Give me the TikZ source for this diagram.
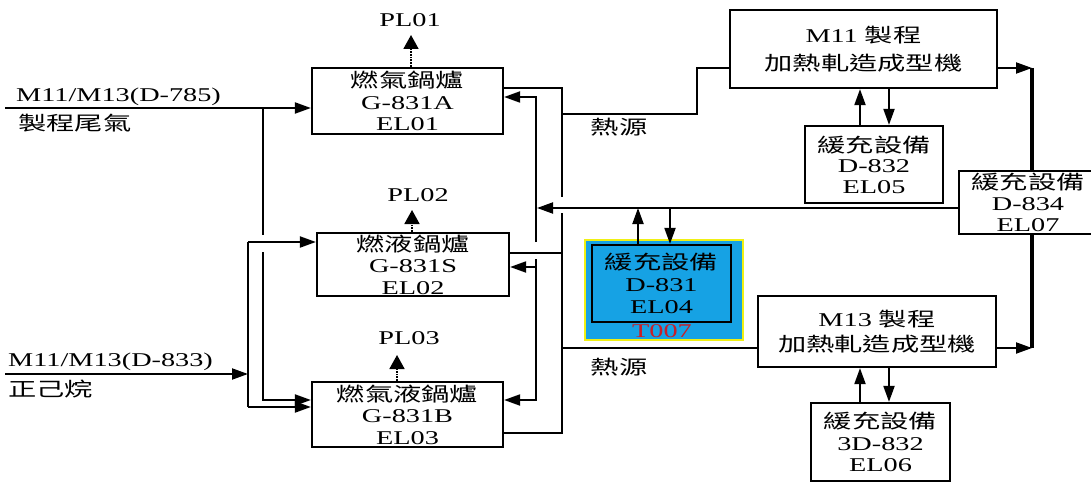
\documentclass[tikz,border=0pt]{standalone}
\usepackage{fontspec}
\setmainfont{Liberation Serif}[FakeStretch=1.45]
\newfontfamily\cjk{Noto Sans CJK TC}[FakeStretch=1.45]
\usetikzlibrary{arrows.meta}
\definecolor{blueF}{RGB}{22,162,228}
\definecolor{yellowB}{RGB}{240,240,20}
\definecolor{redT}{RGB}{200,30,40}
\begin{document}
\begin{tikzpicture}[x=1pt,y=-1pt,font=\fontsize{19.5}{21.5}\selectfont]
\useasboundingbox (0,0) rectangle (1091,484);
\tikzset{
  box/.style={draw, line width=2.2pt, inner sep=0pt, align=center},
  ln/.style={line width=2pt},
  thk/.style={line width=3.2pt},
  arr/.style={line width=2pt, -{Triangle[length=16pt,width=11pt]}},
  plshaft/.style={line width=1.8pt, densely dotted},
  plhead/.style={line width=1.8pt, solid, -{Triangle[length=14pt,width=15pt]}},
  lbl/.style={inner sep=0pt},
}
% ---------- boxes ----------
\node[box, minimum width=191pt, minimum height=66pt] (A) at (407.5,101) {{\cjk 燃氣鍋爐}\\G-831A\\EL01};
\node[box, minimum width=192pt, minimum height=63pt] (S) at (413,264.5) {{\cjk 燃液鍋爐}\\G-831S\\EL02};
\node[box, minimum width=191pt, minimum height=65pt] (B) at (407.5,414.5) {{\cjk 燃氣液鍋爐}\\G-831B\\EL03};
\node[box, minimum width=267pt, minimum height=78pt, font=\fontsize{19.5}{28}\selectfont] (M11) at (863.5,49) {M11 {\cjk 製程}\\{\cjk 加熱軋造成型機}};
\node[box, minimum width=138pt, minimum height=77pt, font=\fontsize{19.5}{20.5}\selectfont] (D832) at (874,164.5) {{\cjk 緩充設備}\\D-832\\EL05};
\node[box, minimum width=138pt, minimum height=63pt, font=\fontsize{19.5}{21}\selectfont] (D834) at (1028,202.5) {{\cjk 緩充設備}\\D-834\\EL07};
\node[box, minimum width=238pt, minimum height=71pt, font=\fontsize{19.5}{25}\selectfont] (M13) at (877,331.5) {M13 {\cjk 製程}\\{\cjk 加熱軋造成型機}};
\node[box, minimum width=139pt, minimum height=78pt] (D3832) at (880.5,442) {{\cjk 緩充設備}\\3D-832\\EL06};
\node[draw=yellowB, line width=1.5pt, fill=blueF, inner sep=0pt, minimum width=158pt, minimum height=100pt] (D831bg) at (664,290) {};
\node[box, fill=blueF, minimum width=139pt, minimum height=77pt, font=\fontsize{19.5}{22}\selectfont] (D831) at (661.5,283.5) {{\cjk 緩充設備}\\D-831\\EL04};
\node[lbl, text=redT] (T007) at (662,331) {T007};
% ---------- labels ----------
\node[lbl, anchor=west] (L1) at (16,97) {M11/M13(D-785)};
\node[lbl, anchor=west] (L1b) at (18,123) {\cjk 製程尾氣};
\node[lbl, anchor=west] (L2) at (8,362) {M11/M13(D-833)};
\node[lbl, anchor=west] (L2b) at (8,389) {\cjk 正己烷};
\node[lbl] (PL01) at (410,20) {PL01};
\node[lbl] (PL02) at (418,195) {PL02};
\node[lbl] (PL03) at (409,338) {PL03};
\node[lbl] (H1) at (619,127) {\cjk 熱源};
\node[lbl] (H2) at (619,367) {\cjk 熱源};
% ---------- PL arrows ----------
\coordinate (pa) at (411,35);
\coordinate (pa2) at (411,48);
\coordinate (pb) at (412,210);
\coordinate (pb2) at (412,223);
\coordinate (pc) at (397,355);
\coordinate (pc2) at (397,368);
\draw[plshaft] (pa |- A.north) -- (pa2);
\draw[plhead] (pa2) -- (pa);
\draw[plshaft] (pb |- S.north) -- (pb2);
\draw[plhead] (pb2) -- (pb);
\draw[plshaft] (pc |- B.north) -- (pc2);
\draw[plhead] (pc2) -- (pc);
% ---------- inputs ----------
\coordinate (in1) at (5,108);
\draw[arr] (in1) -- (in1 -| A.west);
\coordinate (j1) at (263,108);
\coordinate (j1a) at (263,235);
\coordinate (j1b) at (263,252);
\coordinate (j1c) at (263,400);
\draw[ln] (j1) -- (j1a);
\draw[arr] (j1b) -- (j1c) -- (j1c -| B.west);
\coordinate (in2) at (5,374);
\coordinate (v2) at (248,374);
\coordinate (v2t) at (248,242);
\coordinate (v2b) at (248,407);
\draw[arr] (in2) -- (v2);
\draw[ln] (v2t) -- (v2b);
\draw[arr] (v2t) -- (v2t -| S.west);
\draw[arr] (v2b) -- (v2b -| B.west);
% ---------- boiler outputs ----------
\coordinate (oA) at (562,88);
\coordinate (oG1) at (562,197);
\coordinate (oG2) at (562,213);
\coordinate (oS) at (562,253);
\coordinate (oB) at (562,433);
\draw[ln] (oA -| A.east) -- (oA) -- (oG1);
\draw[ln] (oG2) -- (oB) -- (oB -| B.east);
\draw[ln] (oS -| S.east) -- (oS);
\coordinate (h1) at (562,114);
\coordinate (h1c) at (697,114);
\coordinate (h1d) at (697,68);
\draw[ln] (h1) -- (h1c) -- (h1d) -- (h1d -| M11.west);
\coordinate (h2) at (562,348);
\draw[ln] (h2) -- (h2 -| M13.west);
% ---------- return line ----------
\coordinate (rA) at (536,97);
\coordinate (r1) at (536,242);
\coordinate (r2) at (536,259);
\coordinate (rS) at (536,267);
\coordinate (rB) at (536,400);
\coordinate (rr) at (537,208);
\draw[arr] (r1) -- (rA) -- (rA -| A.east);
\draw[arr] (r2) -- (rB) -- (rB -| B.east);
\draw[arr] (rS) -- (rS -| S.east);
\draw[arr] (rr -| D834.west) -- (rr);
% ---------- D-831 ----------
\coordinate (u1) at (638,208);
\coordinate (u2) at (670,208);
\draw[arr] (u1 |- D831.north) -- (u1);
\draw[arr] (u2) -- (u2 |- D831.north);
% ---------- right side ----------
\coordinate (m1) at (1032,68);
\coordinate (m3) at (1032,348);
\draw[arr] (m1 -| M11.east) -- (m1);
\draw[arr] (m3 -| M13.east) -- (m3);
\draw[thk] (m1) -- (m1 |- D834.north);
\draw[thk] (m3) -- (m3 |- D834.south);
\coordinate (p1) at (860,0);
\coordinate (p2) at (889,0);
\draw[arr] (p1 |- D832.north) -- (p1 |- M11.south);
\draw[arr] (p2 |- M11.south) -- (p2 |- D832.north);
\draw[arr] (p1 |- D3832.north) -- (p1 |- M13.south);
\draw[arr] (p2 |- M13.south) -- (p2 |- D3832.north);
\end{tikzpicture}
\end{document}
